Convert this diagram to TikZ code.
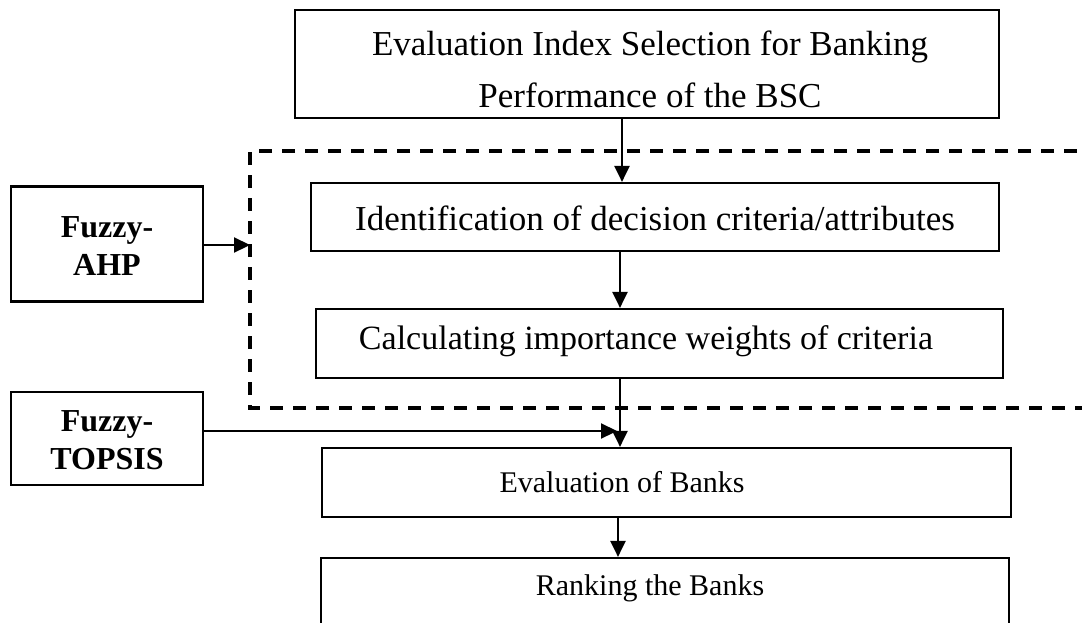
\documentclass[tikz,border=0pt]{standalone}
\usepackage{fontspec}
\setmainfont{Liberation Serif}
\usetikzlibrary{arrows.meta}
\begin{document}
\begin{tikzpicture}[x=1pt,y=-1pt,
  box/.style={draw, line width=2.2pt, rectangle, inner sep=0pt},
  txt/.style={font=\fontsize{30}{52}\selectfont, align=center, inner sep=0pt},
  bigtxt/.style={font=\fontsize{35}{52}\selectfont, align=center, inner sep=0pt},
  btxt/.style={font=\fontsize{32}{38}\selectfont\bfseries, align=center, inner sep=0pt},
  arr/.style={line width=2.2pt, -{Triangle[length=16pt,width=15pt]}},
  dashbox/.style={line width=3.2pt, dash pattern=on 13pt off 10pt}]
\clip (0,0) rectangle (1082,622);
\fill[white] (0,0) rectangle (1082,622);
% dashed frame
\draw[dashbox] (1100,151) -- (250,151) -- (250,408) -- (1100,408);
% boxes
\node[box, minimum width=704pt, minimum height=108pt] (b1) at (647,64) {};
\node[bigtxt] at (650,69) {Evaluation Index Selection for Banking\\Performance of the BSC};
\node[box, minimum width=688pt, minimum height=68pt] (b2) at (655,217) {};
\node[bigtxt] at (655,218) {Identification of decision criteria/attributes};
\node[box, minimum width=687pt, minimum height=69pt] (b3) at (659.5,343.5) {};
\node[font=\fontsize{34}{40}\selectfont, inner sep=0pt] at (646,341) {Calculating importance weights of criteria};
\node[box, minimum width=689pt, minimum height=69pt] (b4) at (666.5,482.5) {};
\node[txt] at (622,482) {Evaluation of Banks};
\node[box, minimum width=688pt, minimum height=100pt] (b5) at (665,608) {};
\node[txt] at (650,588) {Ranking the Banks};
\node[box, minimum width=192pt, minimum height=115pt] (ahp) at (107,244) {};
\node[btxt] at (107,246) {Fuzzy-\\AHP};
\node[box, minimum width=192pt, minimum height=93pt] (top) at (107,438.5) {};
\node[btxt] at (107,440) {Fuzzy-\\TOPSIS};
\coordinate (dl) at (250,245);
% connectors
\draw[arr] (b1.south -| 622,0) -- (b2.north -| 622,0);
\draw[arr] (b2.south -| 620,0) -- (b3.north -| 620,0);
\draw[arr] (b3.south -| 620,0) -- (b4.north -| 620,0);
\draw[arr] (b4.south -| 618,0) -- (b5.north -| 618,0);
\draw[arr] (ahp.east |- dl) -- (dl);
\coordinate (tt) at (617,431);
\draw[arr] (top.east |- tt) -- (tt);
\end{tikzpicture}
\end{document}
